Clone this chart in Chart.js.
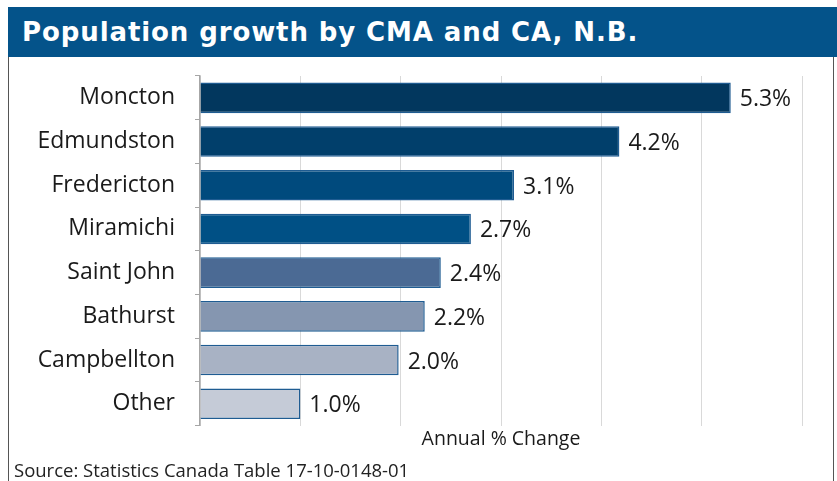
<!DOCTYPE html>
<html>
<head>
<meta charset="utf-8">
<script src="https://cdn.jsdelivr.net/npm/chart.js@4"></script>
<style>
    html, body { margin: 0; padding: 0; background: #fff; }
    body { width: 837px; height: 481px; position: relative; overflow: hidden; font-family: 'Open Sans', sans-serif; }
    .frame { position: absolute; left: 8px; top: 7px; width: 824px; height: 490px; border-left: 1px solid #555; border-right: 1px solid #555; }
    .banner { position: absolute; left: 8px; top: 7px; width: 829px; height: 50px; background: #04538a; }
    .banner h1 { margin: 0; color: #fff; font-family: 'DejaVu Sans', sans-serif; font-size: 26px; font-weight: 700; line-height: 50px; padding-left: 14px; letter-spacing: 0.9px; }
    .source { position: absolute; left: 14px; top: 457px; font-size: 18.5px; line-height: 26px; color: #222; }
    #chart { position: absolute; left: 0; top: 0; }
</style>
</head>
<body>
<div class="frame"></div>
<div class="banner"><h1>Population growth by CMA and CA, N.B.</h1></div>
<canvas id="chart" width="837" height="481"></canvas>
<div class="source">Source: Statistics Canada Table 17-10-0148-01</div>
<script>
// ── DATA ─────────────────────────────────────────────────────────
const CITIES = ['Moncton', 'Edmundston', 'Fredericton', 'Miramichi', 'Saint John', 'Bathurst', 'Campbellton', 'Other'];
const GROWTH = [5.29, 4.18, 3.13, 2.70, 2.40, 2.24, 1.98, 1.00];
const BAR_COLORS = ['#02375e', '#013f6b', '#004a7d', '#005085', '#4b6a94', '#8596b0', '#a8b2c4', '#c5cbd7'];
const X_TITLE = 'Annual % Change';

Chart.defaults.font.family = "'Open Sans', sans-serif";
Chart.defaults.color = '#1a1a1a';

// value labels at the end of each bar
const barLabels = {
    id: 'barLabels',
    afterDatasetsDraw(chart) {
        const ctx = chart.ctx;
        const meta = chart.getDatasetMeta(0);
        ctx.save();
        ctx.font = "23px 'Open Sans', sans-serif";
        ctx.fillStyle = '#1a1a1a';
        ctx.textAlign = 'left';
        ctx.textBaseline = 'middle';
        meta.data.forEach((bar, i) => {
            ctx.fillText(GROWTH[i].toFixed(1) + '%', bar.x + 9, bar.y + 2);
        });
        ctx.restore();
    }
};

new Chart(document.getElementById('chart'), {
    type: 'bar',
    data: {
        labels: CITIES,
        datasets: [{
            data: GROWTH,
            backgroundColor: BAR_COLORS,
            borderColor: '#1f5c92',
            borderWidth: 1.5,
            barPercentage: 0.7,
            categoryPercentage: 1
        }]
    },
    options: {
        indexAxis: 'y',
        responsive: false,
        animation: false,
        layout: { padding: { top: 76, right: 35, bottom: 30, left: 0 } },
        plugins: {
            legend: { display: false },
            tooltip: { enabled: false }
        },
        scales: {
            x: {
                min: 0,
                max: 6,
                ticks: { display: false, stepSize: 1 },
                grid: { color: '#d9d9d9', drawTicks: false, lineWidth: 1 },
                border: { display: false },
                title: { display: true, text: X_TITLE, font: { size: 19.5 }, color: '#1a1a1a', padding: { top: 2, bottom: 0 } }
            },
            y: {
                afterFit(scale) { scale.width = 200; },
                ticks: { font: { size: 23 }, color: '#1a1a1a', padding: 20 },
                grid: { drawOnChartArea: false, tickLength: 5, color: '#a6a6a6' },
                border: { display: true, color: '#a6a6a6', width: 1.5 }
            }
        }
    },
    plugins: [barLabels]
});
</script>
</body>
</html>
